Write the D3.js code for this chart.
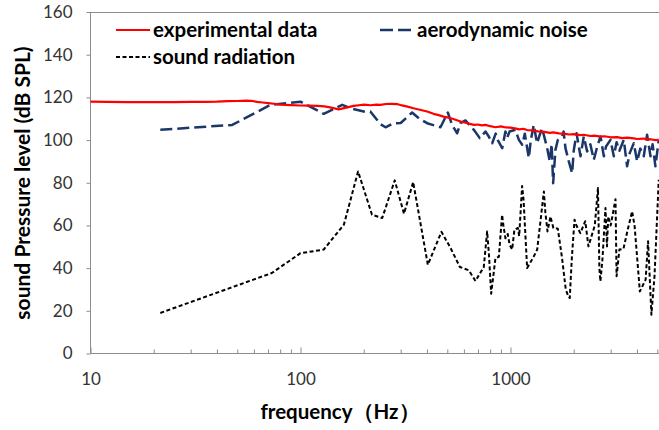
<!DOCTYPE html>
<html><head><meta charset="utf-8">
<script src="https://d3js.org/d3.v7.min.js"></script>
<style>body{margin:0;background:#fff}svg{display:block}</style>
</head><body>
<svg id="chart" width="659" height="430"></svg>
<script>
// ---------- data ----------
const seriesNames = ["experimental data", "aerodynamic noise", "sound radiation"];
const yTicks = [0, 20, 40, 60, 80, 100, 120, 140, 160];
const xLabelTicks = [10, 100, 1000];

const expFreq = [10,12,15,20,25,30,35,40,45,50,55,58,62,66,70,75,80,90,100,110,120,130,140,152,165,179,190,200,215,230,240,255,270,290,300,320,345,370,401,430,450,480,500,530,560,580,610,640,670,700,730,760,800,850,900,950,1000,1050,1100,1150,1200,1290,1350,1450,1538,1600,1700,1827,1900,2000,2154,2234,2400,2500,2683,2800,3000,3219,3400,3600,3864,4000,4311,4471,4642,4899,5081];
const expDb   = [118.0,117.9,117.8,117.8,117.8,117.9,117.9,118.0,118.2,118.3,118.5,118.4,117.9,117.6,117.3,117.0,116.6,116.4,116.2,116.1,116.0,115.8,115.2,114.4,115.2,116.0,116.3,116.6,116.3,116.6,116.5,116.9,117.0,116.8,116.4,115.8,114.9,114.2,113.4,112.3,111.8,111.0,110.6,110.0,109.2,108.7,108.1,107.6,107.1,107.3,106.9,107.1,106.5,106.0,106.4,105.9,105.8,105.5,105.0,105.3,104.7,104.5,104.1,103.8,103.4,103.6,103.1,102.9,102.6,102.8,102.3,102.5,101.9,102.1,101.6,101.8,101.3,101.4,100.9,101.1,100.8,100.5,100.7,100.2,100.4,100.0,100.1];

const aeroFreq = [21.5,47.3,72,100,129,158,173,200,215,240,254,278,300,340,366,401,464,503,527,557,578,610,669,714,760,788,818,850,870,913,946,963,990,1056,1096,1137,1170,1222,1250,1290,1338,1373,1415,1495,1538,1570,1596,1637,1680,1762,1790,1827,1895,1966,2000,2063,2154,2234,2317,2400,2493,2590,2683,2783,2850,2993,3104,3200,3300,3463,3591,3700,3864,4008,4150,4311,4471,4642,4750,4899,5081];
const aeroDb   = [104.8,107.1,116.5,118.0,112.3,116.5,114.9,113.4,113.4,107.5,106.0,107.9,108.0,112.9,110.2,107.9,106.0,112.9,107.1,103.2,107.9,109.2,104.8,100.9,104.0,101.7,98.5,103.0,100.0,96.2,104.0,101.0,104.0,104.8,100.1,97.8,103.0,91.6,100.0,107.1,98.5,102.0,105.5,96.2,90.0,98.0,79.8,95.4,100.0,101.7,104.0,96.2,90.0,84.5,95.0,103.2,92.4,101.7,94.7,98.0,90.8,97.0,101.7,92.4,97.0,100.1,92.4,99.0,95.0,100.1,87.7,94.0,98.5,90.0,96.0,92.4,102.5,92.4,98.0,87.7,100.1];

const radFreq = [21.5,73,100,129,161,188,219,245,281,311,344,404,469,518,574,633,681,746,774,790,809,848,880,912,925,946,970,990,1018,1044,1084,1100,1136,1154,1200,1291,1340,1442,1466,1500,1550,1600,1680,1760,1833,1890,1915,1960,2018,2060,2150,2270,2350,2520,2609,2650,2680,2740,2833,2880,2920,3000,3162,3200,3300,3450,3600,3794,3900,4130,4400,4520,4688,4850,5081];
const radDb   = [19.0,37.7,47.0,48.7,60.4,85.3,65.0,63.5,81.1,65.5,80.3,41.6,57.0,49.5,40.5,39.0,34.0,40.5,57.2,46.0,28.0,44.7,45.3,65.0,60.0,54.0,56.0,51.0,48.7,58.0,58.8,55.0,78.5,72.0,40.0,45.5,48.7,75.9,66.0,57.2,64.2,58.8,58.5,44.7,30.0,26.5,26.0,45.0,62.7,60.0,56.4,62.0,50.2,60.0,77.5,40.0,33.8,44.0,68.2,50.2,64.2,60.0,72.3,36.2,48.7,49.0,57.2,66.6,59.6,29.1,34.6,52.6,18.2,36.2,81.4];

// ---------- layout ----------
const FONT = "Lato, 'Open Sans', sans-serif";
const svg = d3.select("#chart");
const x = d3.scaleLog().domain([10, 10000]).range([90.5, 720.5]);
const y = d3.scaleLinear().domain([0, 160]).range([353.5, 12]);
const grey = "#8c8c8c";

// plot frame top border
svg.append("line").attr("x1", 90.5).attr("x2", 659).attr("y1", 12.5).attr("y2", 12.5)
  .attr("stroke", grey).attr("stroke-width", 1);

// y axis
const yAxis = svg.append("g").attr("transform", "translate(90.5,0)")
  .call(d3.axisLeft(y).tickValues(yTicks).tickSize(4).tickPadding(14).tickFormat(d3.format("d")));
yAxis.select(".domain").attr("stroke", grey).attr("d", `M0,${y(160)}V${y(0)}`);
yAxis.selectAll(".tick line").attr("stroke", grey);
yAxis.selectAll("text").attr("font-family", FONT).attr("font-size", 17).attr("fill", "#333");

// x axis
const xTickVals = [];
[10, 100, 1000].forEach(d => { for (let k = 1; k <= 9; k++) xTickVals.push(d * k); });
const xAxis = svg.append("g").attr("transform", "translate(0,353.5)")
  .call(d3.axisBottom(x).tickValues(xTickVals).tickSize(0).tickFormat(d => xLabelTicks.includes(d) ? d : ""));
xAxis.select(".domain").attr("stroke", grey).attr("d", `M${x(10)},0H659`);
xAxis.selectAll(".tick line").attr("stroke", grey)
  .attr("y2", d => (xLabelTicks.includes(d) ? -6 : -4));
xAxis.selectAll("text").attr("font-family", FONT).attr("font-size", 17).attr("fill", "#333")
  .attr("y", 31).attr("dy", 0);

// lines
const line = d3.line().x(d => x(d[0])).y(d => y(d[1]));
const zip = (a, b) => a.map((v, i) => [v, b[i]]);
const styles = [
  { color: "#ff0000", width: 2.2, dash: null },
  { color: "#1b3668", width: 2.5, dash: "12,5" },
  { color: "#000000", width: 2, dash: "4,2.5" }
];
const dataSets = [zip(expFreq, expDb), zip(aeroFreq, aeroDb), zip(radFreq, radDb)];
[2, 1, 0].forEach(i => {
  svg.append("path").datum(dataSets[i]).attr("d", line)
    .attr("fill", "none").attr("stroke", styles[i].color).attr("stroke-width", styles[i].width)
    .attr("stroke-dasharray", styles[i].dash).attr("stroke-linejoin", "round");
});

// legend
const legendPos = [[116, 30], [380, 30], [116, 57]];
seriesNames.forEach((name, i) => {
  const [lx, ly] = legendPos[i];
  svg.append("line").attr("x1", lx).attr("x2", lx + 34).attr("y1", ly).attr("y2", ly)
    .attr("stroke", styles[i].color).attr("stroke-width", styles[i].width)
    .attr("stroke-dasharray", i === 1 ? "13,5" : styles[i].dash);
  svg.append("text").attr("x", lx + 37).attr("y", ly + 7).text(name)
    .attr("font-family", FONT).attr("font-weight", "bold").attr("font-size", 20.5).attr("fill", "#000");
});

// axis titles
svg.append("text").attr("transform", "translate(30,183) rotate(-90)").attr("text-anchor", "middle")
  .attr("font-family", FONT).attr("font-weight", "bold").attr("font-size", 21).attr("fill", "#000")
  .text("sound Pressure level (dB SPL)");
svg.append("text").attr("x", 340).attr("y", 419).attr("text-anchor", "middle")
  .attr("font-family", FONT).attr("font-weight", "bold").attr("font-size", 20.5).attr("fill", "#000")
  .text("frequency（Hz）");
</script>
</body></html>
